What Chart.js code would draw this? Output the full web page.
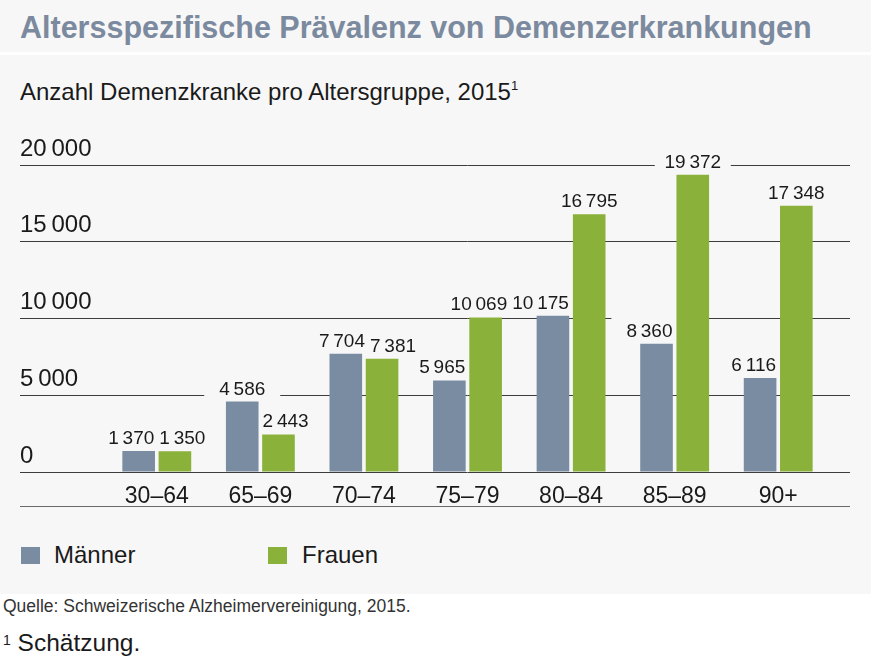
<!DOCTYPE html>
<html><head><meta charset="utf-8">
<script src="https://cdn.jsdelivr.net/npm/chart.js@4.4.1/dist/chart.umd.min.js"></script>
<style>
html,body{margin:0;padding:0}
body{width:877px;height:661px;background:#fff;position:relative;overflow:hidden;font-family:"Liberation Sans",Arial,Helvetica,sans-serif;color:#1a1a1a}
.band{position:absolute;left:0;width:871px;background:#f8f7f8}
#b1{top:0;height:52px}
#b2{top:55px;height:539px}
.txt{position:absolute;white-space:nowrap;line-height:1}
#title{left:20px;top:12px;font-size:30.5px;font-weight:bold;color:#7b8a9e}
#sub{left:20px;top:80px;font-size:24px}
#sub sup{font-size:13px;vertical-align:top;position:relative;top:-1px}
.sq{position:absolute;width:19px;height:17px}
#src{left:3px;top:598px;font-size:17.5px;color:#333}
#note{left:3px;top:631px;font-size:24.5px}
#note sup{font-size:14px;vertical-align:top;position:relative;top:2px}
canvas{position:absolute;left:0;top:0}
</style></head>
<body>
<div class="band" id="b1"></div>
<div class="band" id="b2"></div>
<div class="txt" id="title">Altersspezifische Prävalenz von Demenzerkrankungen</div>
<div class="txt" id="sub">Anzahl Demenzkranke pro Altersgruppe, 2015<sup>1</sup></div>
<div id="legend"></div>
<div class="txt" id="src">Quelle: Schweizerische Alzheimervereinigung, 2015.</div>
<div class="txt" id="note"><sup>1</sup> Schätzung.</div>
<canvas id="c" width="877" height="661"></canvas>
<script>
const categories = ['30–64','65–69','70–74','75–79','80–84','85–89','90+'];
const maenner = [1370, 4586, 7704, 5965, 10175, 8360, 6116];
const frauen = [1350, 2443, 7381, 10069, 16795, 19372, 17348];
const seriesNames = ['Männer','Frauen'];
const seriesColors = ['#7a8ca2','#8ab13a'];
const yTicks = [0, 5000, 10000, 15000, 20000];

const PANEL = '#f8f7f8';
const FONT = '"Liberation Sans", Arial, sans-serif';
function fmt(v){
  const s = String(Math.round(v));
  return s.replace(/\B(?=(\d{3})+(?!\d))/g, '\u2009');
}

// HTML legend built from the series names/colours
const lg = document.getElementById('legend');
const legendPos = [{sq:21, tx:54},{sq:268, tx:302}];
seriesNames.forEach((n,i)=>{
  const s = document.createElement('div'); s.className='sq';
  s.style.left = legendPos[i].sq+'px'; s.style.top='547px'; s.style.background=seriesColors[i];
  lg.appendChild(s);
  const t = document.createElement('div'); t.className='txt';
  t.style.left = legendPos[i].tx+'px'; t.style.top='543px'; t.style.fontSize='24px';
  t.textContent = n; lg.appendChild(t);
});

// place value labels above bars, nudging them sideways to avoid overlaps
function layoutLabels(chart, ctx){
  const GAP = 4;
  const items = [], bars = [];
  ctx.font = '19px ' + FONT;
  chart.data.datasets.forEach((ds,di)=>{
    chart.getDatasetMeta(di).data.forEach((el,i)=>{
      const text = fmt(ds.data[i]);
      const w = ctx.measureText(text).width;
      items.push({text, x:el.x, base:el.y-7, w, top:el.y-22, bottom:el.y-3, di, i});
      bars.push({l:el.x-el.width/2, r:el.x+el.width/2, top:el.y, di, i});
    });
  });
  for (let it=0; it<12; it++){
    items.forEach(a=>{
      bars.forEach(b=>{
        if (b.di===a.di && b.i===a.i) return;
        if (a.bottom <= b.top) return;
        const l = a.x-a.w/2, r = a.x+a.w/2;
        if (r + GAP > b.l && l - GAP < b.r){
          if (a.x < (b.l+b.r)/2) a.x = b.l - GAP - a.w/2; else a.x = b.r + GAP + a.w/2;
        }
      });
    });
    for (let p=0; p<items.length; p++){
      for (let q=p+1; q<items.length; q++){
        const a = items[p], b = items[q];
        if (!(a.top < b.bottom && b.top < a.bottom)) continue;
        const need = (a.w+b.w)/2 + 5 - Math.abs(a.x-b.x);
        if (need > 0){
          const s = a.x <= b.x ? -1 : 1;
          a.x += s*need/2; b.x -= s*need/2;
        }
      }
    }
  }
  return items;
}

const labelPlugin = {
  id:'valueLabels',
  beforeDatasetsDraw(chart){
    const ctx = chart.ctx;
    ctx.save();
    chart.$labels = layoutLabels(chart, ctx);
    ctx.fillStyle = PANEL;
    chart.$labels.forEach(l=>{
      ctx.fillRect(l.x - 38, l.base - 19, 76, 23);
    });
    ctx.restore();
  },
  afterDatasetsDraw(chart){
    const ctx = chart.ctx;
    ctx.save();
    ctx.font = '19px ' + FONT;
    ctx.fillStyle = '#1a1a1a';
    ctx.textAlign = 'center';
    ctx.textBaseline = 'alphabetic';
    chart.$labels.forEach(l=>{ ctx.fillText(l.text, l.x, l.base); });
    ctx.restore();
  },
  afterDraw(chart){
    const ctx = chart.ctx, xs = chart.scales.x, yl = chart.scales.y, yr = chart.scales.y2;
    ctx.save();
    ctx.strokeStyle = '#6a6a6a';
    ctx.lineWidth = 1;
    const yy = Math.round(xs.bottom) + 0.5;
    ctx.beginPath();
    ctx.moveTo(yl.left, yy);
    ctx.lineTo(yr.right, yy);
    ctx.stroke();
    ctx.restore();
  }
};

new Chart(document.getElementById('c'), {
  type:'bar',
  data:{
    labels: categories,
    datasets:[
      {label:seriesNames[0], data:maenner, backgroundColor:seriesColors[0]},
      {label:seriesNames[1], data:frauen, backgroundColor:seriesColors[1]}
    ]
  },
  options:{
    responsive:false,
    animation:false,
    devicePixelRatio:1,
    barPercentage:0.9,
    categoryPercentage:0.7,
    layout:{padding:{left:20, right:27, top:165, bottom:155}},
    plugins:{legend:{display:false}, tooltip:{enabled:false}},
    scales:{
      x:{
        type:'category',
        grid:{display:false},
        border:{display:false},
        ticks:{font:{size:23, family:FONT}, color:'#1a1a1a', padding:3, maxRotation:0},
        afterFit(s){ s.height = 34; }
      },
      y:{
        position:'left',
        min:0, max:20000,
        afterBuildTicks(s){ s.ticks = yTicks.map(v=>({value:v})); },
        grid:{color:'#3c3c3c', lineWidth:1, tickLength:85, drawTicks:true},
        border:{display:false},
        ticks:{crossAlign:'far', padding:0, labelOffset:-16, font:{size:24, family:FONT}, color:'#1a1a1a', callback:(v)=>fmt(v)},
        afterFit(s){ s.width = 85; }
      },
      y2:{
        position:'right',
        min:0, max:20000,
        afterBuildTicks(s){ s.ticks = yTicks.map(v=>({value:v})); },
        grid:{color:'#3c3c3c', lineWidth:1, tickLength:20, drawOnChartArea:false},
        border:{display:false},
        ticks:{display:false},
        afterFit(s){ s.width = 20; }
      }
    }
  },
  plugins:[labelPlugin]
});
</script>
</body></html>
